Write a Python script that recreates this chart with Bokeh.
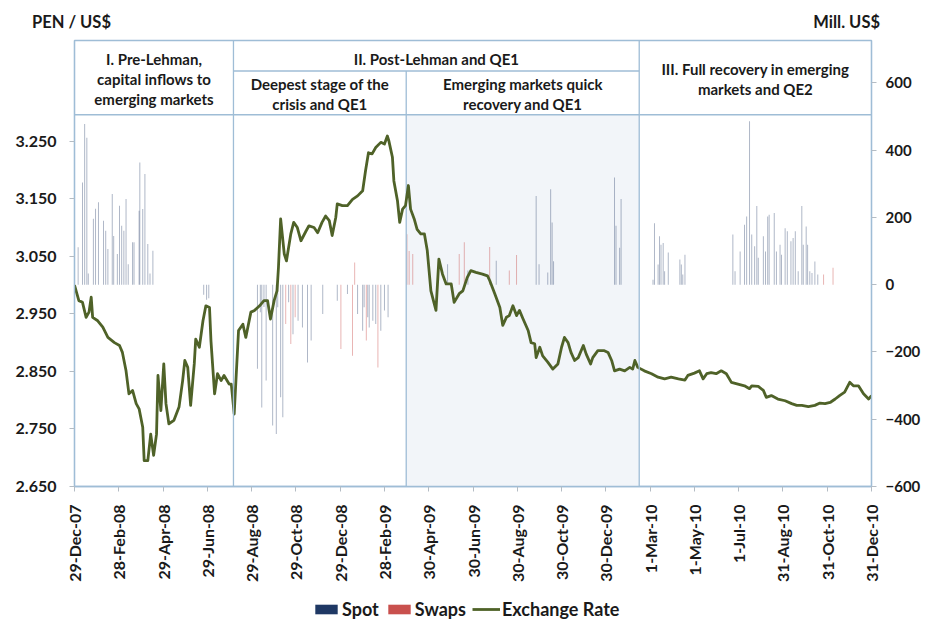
import math
import pandas as pd
from bokeh.plotting import figure
from bokeh.layouts import column
from bokeh.models import (Range1d, LinearAxis, FixedTicker, Span, BoxAnnotation, Div,
                          Legend, LegendItem, ColumnDataSource, NumeralTickFormatter)
from bokeh.core.properties import value
from bokeh.embed import file_html
from bokeh.resources import INLINE

# ---------------- data ----------------
start_date = "2007-12-29"
end_date = "2010-12-31"

x_tick_labels = ["29-Dec-07", "28-Feb-08", "29-Apr-08", "29-Jun-08", "29-Aug-08", "29-Oct-08",
                 "29-Dec-08", "28-Feb-09", "30-Apr-09", "30-Jun-09", "30-Aug-09", "30-Oct-09",
                 "30-Dec-09", "1-Mar-10", "1-May-10", "1-Jul-10", "31-Aug-10", "31-Oct-10", "31-Dec-10"]
left_ticks = [2.650, 2.750, 2.850, 2.950, 3.050, 3.150, 3.250]
right_ticks = [-600, -400, -200, 0, 200, 400, 600]
left_title = "PEN / US$"
right_title = "Mill. US$"

# exchange rate (PEN per US$), days after start_date
rate_day = [0, 6, 11, 16, 20, 23, 25, 32, 39, 46, 55, 62, 66, 71, 75, 80, 85, 89, 94, 96, 101, 105, 109, 113,
            115, 119, 123, 126, 130, 137, 144, 149, 152, 156, 160, 165, 167, 172, 177, 181, 186, 188, 193, 197,
            202, 206, 213, 216, 220, 226, 232, 236, 243, 248, 255, 261, 266, 270, 275, 279, 281, 284, 289, 292,
            298, 302, 307, 312, 319, 323, 330, 335, 341, 346, 351, 355, 360, 362, 369, 376, 383, 390, 397, 401,
            405, 410, 415, 422, 427, 431, 433, 438, 440, 445, 448, 452, 456, 460, 463, 468, 472, 477, 482, 486,
            491, 498, 502, 507, 512, 519, 523, 530, 535, 541, 546, 553, 562, 569, 572, 579, 586, 590, 595, 599,
            604, 609, 613, 618, 625, 629, 634, 636, 641, 645, 652, 659, 666, 671, 675, 680, 684, 689, 694, 701,
            705, 711, 714, 721, 730, 735, 740, 744, 751, 758, 765, 769, 772, 776, 785, 795, 804, 813, 822, 832,
            841, 845, 854, 861, 866, 871, 877, 884, 891, 898, 905, 914, 923, 930, 933, 942, 949, 953, 960, 969,
            979, 988, 995, 1002, 1011, 1020, 1027, 1034, 1041, 1048, 1054, 1061, 1068, 1073, 1080, 1087, 1094, 1098]
rate_value = [3.000, 2.973, 2.970, 2.944, 2.953, 2.979, 2.944, 2.938, 2.927, 2.909, 2.900, 2.895, 2.883, 2.851,
              2.811, 2.817, 2.794, 2.785, 2.753, 2.695, 2.695, 2.741, 2.704, 2.741, 2.843, 2.782, 2.863, 2.794,
              2.759, 2.765, 2.788, 2.834, 2.869, 2.857, 2.791, 2.863, 2.906, 2.892, 2.938, 2.964, 2.961, 2.903,
              2.811, 2.846, 2.834, 2.843, 2.828, 2.828, 2.776, 2.921, 2.932, 2.909, 2.953, 2.956, 2.964, 2.973,
              2.973, 2.941, 2.973, 2.990, 3.031, 3.115, 3.054, 3.042, 3.089, 3.109, 3.100, 3.077, 3.094, 3.103,
              3.100, 3.091, 3.109, 3.120, 3.112, 3.086, 3.118, 3.141, 3.138, 3.138, 3.149, 3.155, 3.164, 3.199,
              3.230, 3.228, 3.239, 3.248, 3.245, 3.259, 3.251, 3.222, 3.181, 3.146, 3.109, 3.132, 3.138, 3.173,
              3.132, 3.115, 3.097, 3.089, 3.089, 3.060, 2.990, 2.956, 3.045, 3.019, 3.002, 3.002, 2.970, 2.985,
              2.990, 3.013, 3.025, 3.022, 3.019, 3.016, 3.008, 2.985, 2.961, 2.930, 2.944, 2.947, 2.964, 2.947,
              2.956, 2.941, 2.921, 2.900, 2.898, 2.874, 2.892, 2.877, 2.866, 2.854, 2.863, 2.892, 2.909, 2.900,
              2.883, 2.869, 2.874, 2.895, 2.880, 2.863, 2.874, 2.886, 2.886, 2.883, 2.869, 2.851, 2.854, 2.851,
              2.857, 2.854, 2.869, 2.857, 2.851, 2.846, 2.840, 2.837, 2.840, 2.837, 2.835, 2.843, 2.847, 2.851,
              2.837, 2.846, 2.848, 2.846, 2.851, 2.846, 2.831, 2.828, 2.825, 2.820, 2.825, 2.824, 2.817, 2.805,
              2.808, 2.802, 2.799, 2.794, 2.791, 2.791, 2.789, 2.791, 2.795, 2.794, 2.796, 2.802, 2.808, 2.814,
              2.831, 2.825, 2.825, 2.811, 2.802, 2.808]

# spot interventions (Mill. US$)
spot_day = [5, 11, 14, 17, 19, 26, 29, 33, 40, 43, 46, 52, 54, 59, 62, 65, 68, 71, 74, 80, 82, 89, 90, 94, 97,
            101, 104, 108, 178, 182, 185,
            252, 256, 258, 261, 264, 273, 278, 280, 284, 287, 295, 301, 308, 314, 321, 326, 342, 362, 376, 390,
            397, 399, 404, 406, 411, 415, 422, 427, 432,
            514, 542, 581, 636, 640, 652, 656, 658, 660, 744, 746, 751, 753,
            797, 799, 804, 806, 808, 811, 813, 818, 834, 836, 838, 841, 907, 910, 917, 923, 926, 930, 933, 937,
            940, 942, 949, 952, 955, 957, 964, 967, 972, 974, 979, 982, 987, 990, 993, 997, 1002, 1004, 1008,
            1010, 1013, 1016, 1020, 1024]
spot_value = [111, 304, 478, 437, 33, 196, 226, 245, 190, 160, 106, 270, 145, 91, 235, 175, 160, 255, 61, 126,
              126, 220, 363, 225, 329, 121, 33, 101, -30, -45, -40,
              -250, -82, -365, -66, -285, -419, -444, -67, -335, -394, -52, -147, -107, -127, -231, -166, -87,
              -48, -28, -87, -137, -67, -97, -127, -107, -117, -137, -77, -97,
              61, 42, 71, 264, 61, 36, 284, 185, 70, 319, 175, 110, 255,
              15, 183, 60, 144, 119, 124, 40, 96, 75, 60, 30, 89, 149, 40, 99, 178, 203, 486, 149, 114, 234, 80,
              144, 99, 203, 208, 213, 99, 119, 89, 168, 159, 129, 139, 159, 40, 234, 119, 173, 119, 40, 35, 69, 30]

# swap interventions (Mill. US$)
swap_day = [291, 298, 304, 367, 383, 386, 402, 418, 458, 461, 466, 530, 537, 572, 599, 609, 1032, 1045]
swap_value = [-117, -176, -97, -191, -211, 66, -166, -246, 150, 100, 91, 91, 126, 112, 42, 88, 30, 50]

# periods
period_bounds = ["2007-12-29", "2008-08-04", "2009-03-30", "2010-02-14", "2010-12-31"]

# ---------------- helpers ----------------
DAY_MS = 86400000.0
t0 = pd.Timestamp(start_date)


def to_ms(ts):
    return ts.value / 1e6


def day_ms(d):
    return to_ms(t0 + pd.Timedelta(days=d))


tick_ts = pd.to_datetime(x_tick_labels, format="%d-%b-%y")
tick_ms = [int(to_ms(t)) for t in tick_ts]
bounds_ms = [to_ms(pd.Timestamp(b)) for b in period_bounds]

NAVY = "#1f3864"
RED = "#c9504d"
GREEN = "#4f6228"
FRAME = "#9fbdd6"
FONT = "Lato"
TXT = "#1a1a1a"

W = 924
LEFT, RIGHT = 74, 53

Y0, Y1 = 2.65, 3.425
HDR = 3.296      # bottom of header band
SUB = 3.372      # sub-header line for period II

# ---------------- top strip: axis titles ----------------
titles = Div(
    text=(f'<div style="position:relative;width:{W}px;height:38px;font-family:Lato;font-weight:bold;'
          f'font-size:16.5px;line-height:20px;color:{TXT};">'
          f'<span style="position:absolute;left:32px;top:12px;white-space:nowrap;">{left_title}</span>'
          f'<span style="position:absolute;right:{W - 880}px;top:12px;white-space:nowrap;">{right_title}</span>'
          f'</div>'),
    width=W, height=38, margin=0)

# ---------------- main chart ----------------
p = figure(width=W, height=552, x_axis_type="datetime", output_backend="svg", toolbar_location=None,
           x_range=Range1d(to_ms(t0), to_ms(pd.Timestamp(end_date))), y_range=Range1d(Y0, Y1),
           min_border_left=LEFT, min_border_right=RIGHT, min_border_top=2, min_border_bottom=104)
p.extra_y_ranges = {"mill": Range1d(-600, 726)}
p.xgrid.visible = False
p.ygrid.visible = False
p.outline_line_color = FRAME
p.outline_line_width = 1.3
p.background_fill_color = "white"
p.border_fill_color = "white"

# shaded column (emerging markets quick recovery)
p.add_layout(BoxAnnotation(left=bounds_ms[2], right=bounds_ms[3], top=HDR, bottom=Y0,
                           fill_color="#f2f5f9", fill_alpha=1.0, line_color=None, level="underlay"))

# bars
spot_src = ColumnDataSource(dict(x=[day_ms(d) for d in spot_day], top=spot_value))
swap_src = ColumnDataSource(dict(x=[day_ms(d) for d in swap_day], top=swap_value))
p.vbar(x="x", top="top", bottom=0, width=1.3 * DAY_MS, source=spot_src, y_range_name="mill",
       fill_color=NAVY, fill_alpha=0.38, line_color=None)
p.vbar(x="x", top="top", bottom=0, width=1.3 * DAY_MS, source=swap_src, y_range_name="mill",
       fill_color=RED, fill_alpha=0.45, line_color=None)

# header lines
p.add_layout(Span(location=HDR, dimension="width", line_color=FRAME, line_width=1.3))
for b in (bounds_ms[1], bounds_ms[3]):
    p.add_layout(Span(location=b, dimension="height", line_color=FRAME, line_width=1.3))
p.segment(x0=[bounds_ms[1], bounds_ms[2]], y0=[SUB, SUB], x1=[bounds_ms[3], bounds_ms[2]], y1=[SUB, Y0],
          line_color=FRAME, line_width=1.3)

# exchange rate line
p.line(x=[day_ms(d) for d in rate_day], y=rate_value, line_color=GREEN, line_width=2.8, line_join="round")

# header texts
c = [(bounds_ms[i] + bounds_ms[i + 1]) / 2 for i in range(4)]
c_II = (bounds_ms[1] + bounds_ms[3]) / 2
hdr = dict(
    x=[c[0], c[0], c[0], c_II, c[1], c[1], c[2], c[2], c[3], c[3]],
    y=[3.392, 3.358, 3.323, 3.392, 3.349, 3.314, 3.349, 3.314, 3.375, 3.340],
    text=["I. Pre-Lehman,", "capital inflows to", "emerging markets", "II. Post-Lehman and QE1",
          "Deepest stage of the", "crisis and QE1", "Emerging markets quick", "recovery and QE1",
          "III. Full recovery in emerging", "markets and QE2"],
)
p.text(x="x", y="y", text="text", source=ColumnDataSource(hdr), text_font=value(FONT),
       text_font_style="bold", text_font_size="15px", text_align="center", text_baseline="middle",
       text_color=TXT)

# axes
xa = p.xaxis[0]
xa.ticker = FixedTicker(ticks=tick_ms, minor_ticks=[])
xa.major_label_overrides = {t: lab for t, lab in zip(tick_ms, x_tick_labels)}
xa.major_label_orientation = math.pi / 2

ya = p.yaxis[0]
ya.ticker = FixedTicker(ticks=left_ticks, minor_ticks=[])
ya.formatter = NumeralTickFormatter(format="0.000")

ra = LinearAxis(y_range_name="mill", ticker=FixedTicker(ticks=right_ticks, minor_ticks=[]))
p.add_layout(ra, "right")

for ax in (xa, ya, ra):
    ax.axis_line_color = FRAME
    ax.axis_line_width = 1.3
    ax.major_tick_line_color = "#b4bcc4"
    ax.major_tick_in = 0
    ax.major_tick_out = 5
    ax.minor_tick_line_color = None
    ax.major_label_text_font = FONT
    ax.major_label_text_font_style = "bold"
    ax.major_label_text_font_size = "16px"
    ax.major_label_text_color = TXT
    ax.major_label_standoff = 13
ra.major_label_standoff = 9
ra.major_label_text_font_size = "15px"

# ---------------- bottom strip: legend ----------------
bot = figure(width=W, height=30, x_range=Range1d(0, 1), y_range=Range1d(0, 1), output_backend="svg",
             toolbar_location=None, x_axis_location=None, y_axis_location=None, min_border=0)
bot.outline_line_color = None
bot.xgrid.visible = False
bot.ygrid.visible = False
# legend swatch proxies (placed outside the visible range)
spot_proxy = bot.vbar(x=[-5], top=[-5], bottom=[-6], width=1, fill_color=NAVY, line_color=None)
swap_proxy = bot.vbar(x=[-5], top=[-5], bottom=[-6], width=1, fill_color=RED, line_color=None)
rate_proxy = bot.line(x=[-6, -5], y=[-6, -5], line_color=GREEN, line_width=2.8)
legend = Legend(items=[LegendItem(label="Spot", renderers=[spot_proxy]),
                       LegendItem(label="Swaps", renderers=[swap_proxy]),
                       LegendItem(label="Exchange Rate", renderers=[rate_proxy])],
                orientation="horizontal", location=(238, 0), padding=0, margin=0, spacing=6,
                label_standoff=2, glyph_width=28, glyph_height=12, label_height=18,
                label_text_font=FONT, label_text_font_style="bold", label_text_font_size="18px",
                label_text_color=TXT, border_line_color=None, background_fill_alpha=0)
bot.add_layout(legend)

layout = column(titles, p, bot, spacing=0)
open("out.html", "w").write(file_html(layout, INLINE))
